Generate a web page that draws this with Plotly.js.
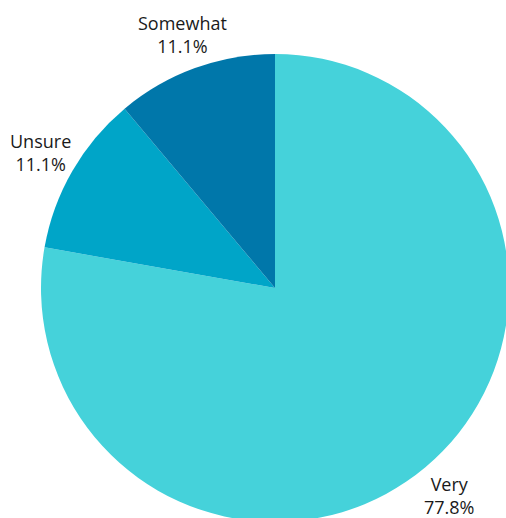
<!DOCTYPE html>
<html>
<head>
<meta charset="utf-8">
<script src="https://cdn.plot.ly/plotly-3.0.1.min.js"></script>
<style>
html,body{margin:0;padding:0;overflow:hidden;width:506px;height:518px;background:#fff;}
#chart{position:absolute;left:0;top:0;width:700px;height:700px;}
</style>
</head>
<body>
<div id="chart"></div>
<script>
const categories = ["Very", "Unsure", "Somewhat"];
const values = [7, 1, 1];
const colors = ["#45D2DA", "#00A5C8", "#0077AA"];

const FONT = "Open Sans, sans-serif";
const total = values.reduce((a, b) => a + b, 0);

// label annotations placed along each slice's mid-angle ray (clockwise from 12 o'clock)
const annotations = [];
let cum = 0;
values.forEach((v, i) => {
  const mid = (cum + v / 2) / total * 2 * Math.PI;
  cum += v;
  const k = 1.155 * 0.5;
  annotations.push({
    xref: "paper", yref: "paper",
    x: 0.5 + k * Math.sin(mid),
    y: 0.5 + k * Math.cos(mid),
    xanchor: "center", yanchor: "middle",
    showarrow: false,
    text: categories[i] + "<br>" + (v / total * 100).toFixed(1) + "%",
    font: {family: FONT, size: 18, color: "#1a1a1a"}
  });
});

const trace = {
  type: "pie",
  labels: categories,
  values: values,
  sort: false,
  direction: "clockwise",
  rotation: 0,
  textinfo: "none",
  marker: {colors: colors, line: {width: 0}},
  hoverinfo: "none",
  showlegend: false
};

const layout = {
  width: 700,
  height: 700,
  margin: {l: 41, t: 54, r: 700 - 41 - 468, b: 700 - 54 - 468},
  paper_bgcolor: "#fff",
  plot_bgcolor: "#fff",
  showlegend: false,
  annotations: annotations,
  font: {family: FONT, size: 18, color: "#1a1a1a"}
};

Plotly.newPlot("chart", [trace], layout, {displayModeBar: false, staticPlot: true});
</script>
</body>
</html>
